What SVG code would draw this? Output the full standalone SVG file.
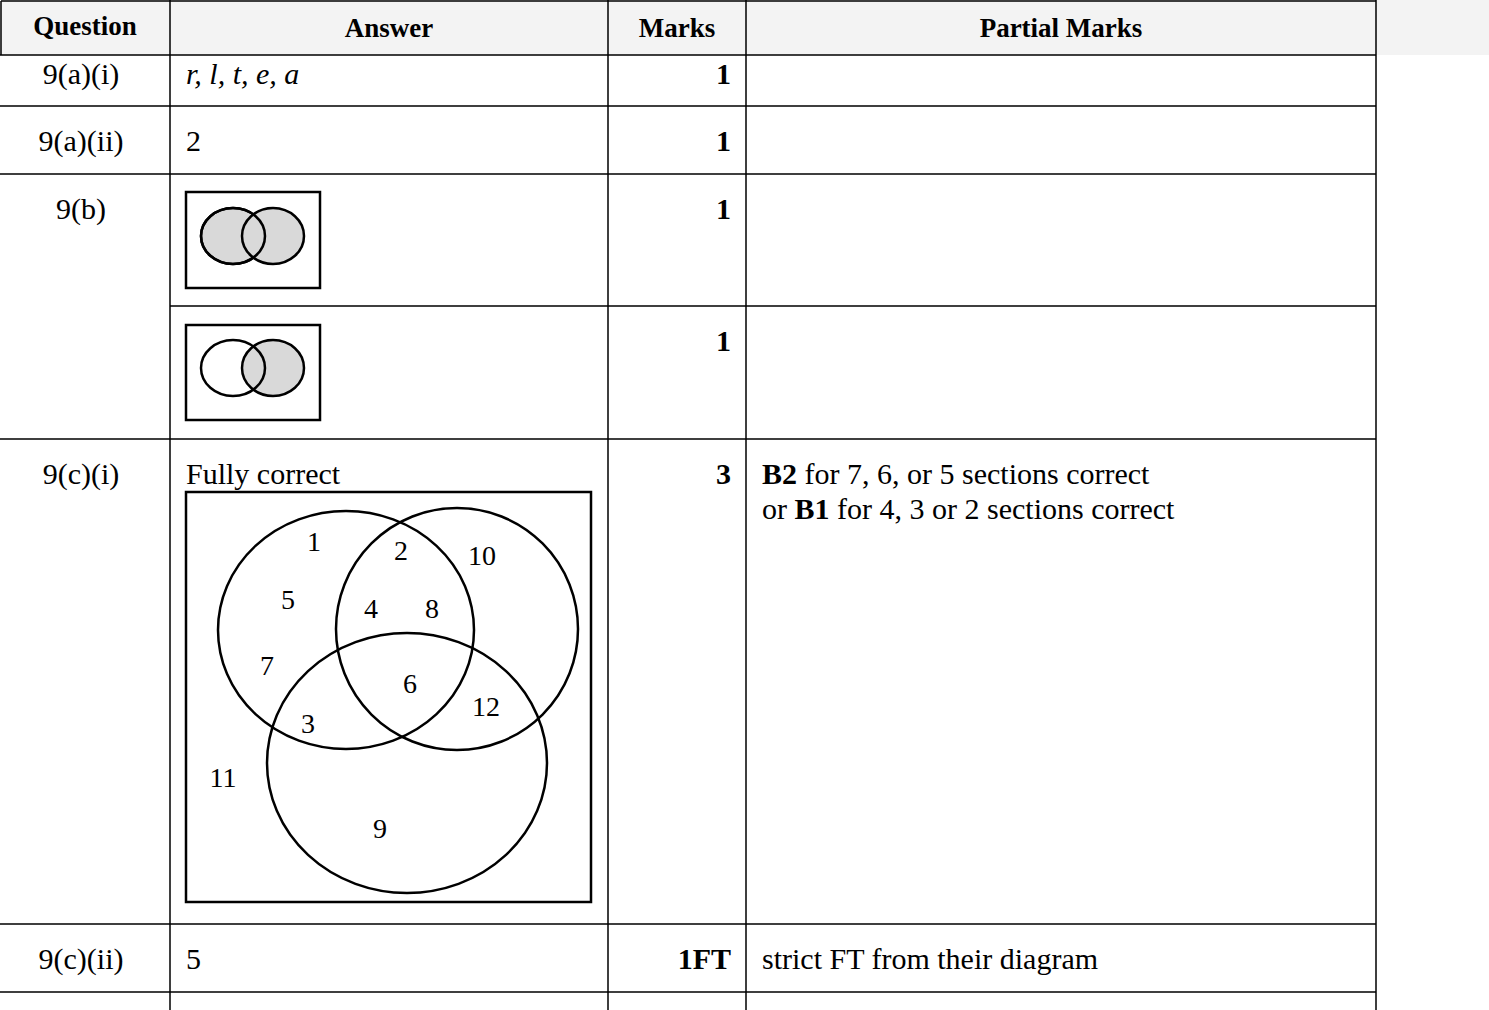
<svg xmlns="http://www.w3.org/2000/svg" width="1489" height="1010" viewBox="0 0 1489 1010">
<style>
.t{font-family:"Liberation Serif",serif;font-size:30px;fill:#000}
.h{font-family:"Liberation Serif",serif;font-size:27px;font-weight:bold;fill:#000}
.n{font-family:"Liberation Serif",serif;font-size:28px;fill:#000}
.b{font-weight:bold}
.l{stroke:#000;stroke-width:1.5;fill:none}
.c{stroke:#000;stroke-width:2.5;fill:none}
</style>
<rect width="1489" height="1010" fill="#fff"/>
<rect x="0" y="0" width="1489" height="55" fill="#f3f3f3"/>
<g id="grid">
<path class="l" d="M1,1H1376M1,1V55M0,55H1376M170,0V1010M608,0V1010M746,0V1010M1376,0V1010M0,106H1376M0,174H1376M170,306H1376M0,439H1376M0,924H1376M0,992H1376"/>
</g>
<g id="header">
<text class="h" x="85" y="35" text-anchor="middle">Question</text>
<text class="h" x="389" y="37" text-anchor="middle">Answer</text>
<text class="h" x="677" y="37" text-anchor="middle">Marks</text>
<text class="h" x="1061" y="37" text-anchor="middle">Partial Marks</text>
</g>
<g id="rows">
<text class="t" x="81" y="84" text-anchor="middle">9(a)(i)</text>
<text class="t" x="186" y="84" font-style="italic">r, l, t, e, a</text>
<text class="t b" x="731" y="84" text-anchor="end">1</text>
<text class="t" x="81" y="151" text-anchor="middle">9(a)(ii)</text>
<text class="t" x="186" y="151">2</text>
<text class="t b" x="731" y="151" text-anchor="end">1</text>
<text class="t" x="81" y="219" text-anchor="middle">9(b)</text>
<text class="t b" x="731" y="219" text-anchor="end">1</text>
<text class="t b" x="731" y="351" text-anchor="end">1</text>
<text class="t" x="81" y="484" text-anchor="middle">9(c)(i)</text>
<text class="t" x="186" y="484">Fully correct</text>
<text class="t b" x="731" y="484" text-anchor="end">3</text>
<text class="t" x="762" y="484"><tspan class="b">B2</tspan> for 7, 6, or 5 sections correct</text>
<text class="t" x="762" y="519">or <tspan class="b">B1</tspan> for 4, 3 or 2 sections correct</text>
<text class="t" x="81" y="969" text-anchor="middle">9(c)(ii)</text>
<text class="t" x="186" y="969">5</text>
<text class="t b" x="731" y="969" text-anchor="end">1FT</text>
<text class="t" x="762" y="969">strict FT from their diagram</text>
</g>
<g id="venn1">
<rect x="186" y="192" width="134" height="96" class="c"/>
<ellipse cx="233" cy="236" rx="32" ry="28" fill="#d9d9d9" stroke="#000" stroke-width="2.5"/>
<ellipse cx="273" cy="236" rx="31" ry="28" fill="#d9d9d9" stroke="#000" stroke-width="2.5"/>
<ellipse cx="233" cy="236" rx="32" ry="28" class="c"/>
</g>
<g id="venn2">
<rect x="186" y="325" width="134" height="95" class="c"/>
<ellipse cx="273" cy="368" rx="31" ry="28" fill="#d9d9d9" stroke="#000" stroke-width="2.5"/>
<ellipse cx="233" cy="368" rx="32" ry="28" class="c"/>
</g>
<g id="venn3">
<rect x="186" y="492" width="405" height="410" class="c"/>
<ellipse cx="346" cy="630" rx="128" ry="119" class="c"/>
<ellipse cx="457" cy="629" rx="121" ry="121" class="c"/>
<ellipse cx="407" cy="763" rx="140" ry="130" class="c"/>
<text class="n" x="314" y="551" text-anchor="middle">1</text>
<text class="n" x="401" y="560" text-anchor="middle">2</text>
<text class="n" x="482" y="565" text-anchor="middle">10</text>
<text class="n" x="288" y="609" text-anchor="middle">5</text>
<text class="n" x="371" y="618" text-anchor="middle">4</text>
<text class="n" x="432" y="618" text-anchor="middle">8</text>
<text class="n" x="267" y="675" text-anchor="middle">7</text>
<text class="n" x="410" y="693" text-anchor="middle">6</text>
<text class="n" x="486" y="716" text-anchor="middle">12</text>
<text class="n" x="308" y="733" text-anchor="middle">3</text>
<text class="n" x="223" y="787" text-anchor="middle">11</text>
<text class="n" x="380" y="838" text-anchor="middle">9</text>
</g>
</svg>
